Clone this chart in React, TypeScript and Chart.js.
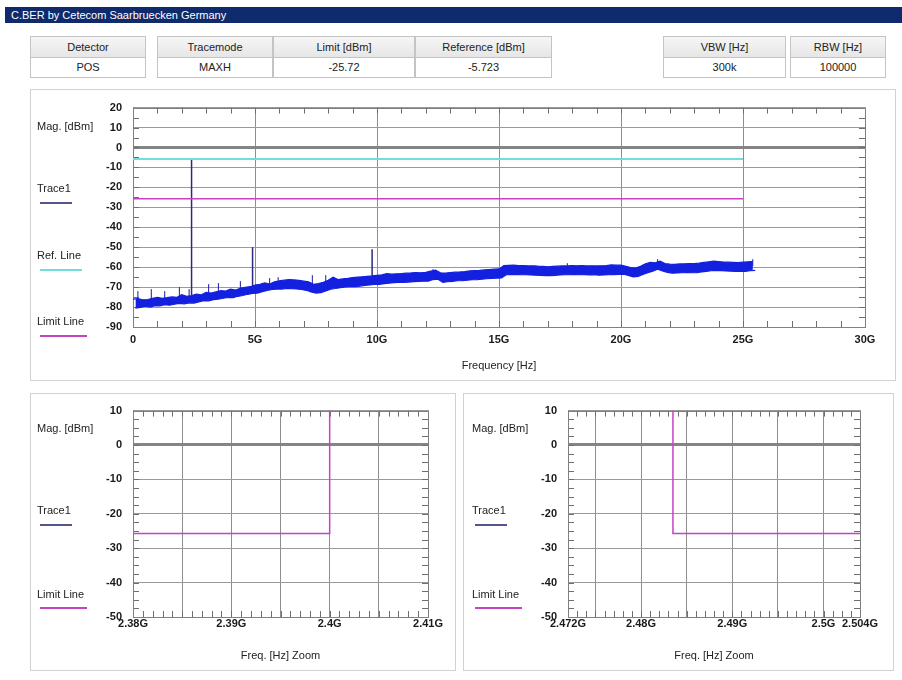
import React, { useEffect, useRef } from 'react';
import { Chart, registerables } from 'chart.js';

Chart.register(...registerables);

const FONT = '"Liberation Sans", Arial, sans-serif';

// ---------- header table ----------
const headerLabels = ['Detector', 'Tracemode', 'Limit [dBm]', 'Reference [dBm]'];
const headerValues = ['POS', 'MAXH', '-25.72', '-5.723'];
const bwLabels = ['VBW [Hz]', 'RBW [Hz]'];
const bwValues = ['300k', '100000'];

// ---------- lines ----------
const limitDbm = -25.72;
const referenceDbm = -5.723;
const lineStartGHz = 0;
const lineStopGHz = 25;

// ---------- measured trace (sweep 0 .. 25.5 GHz, 0.1 GHz per sample) ----------
// samples alternate between the upper and lower envelope of the noise band
const traceStartGHz = 0;
const traceStepGHz = 0.1;
const traceDbm = [
  -76.0, -80.5, -75.8, -80.2, -76.4, -79.6, -76.2, -80.0, -75.6, -79.3,
  -75.2, -79.4, -75.6, -78.8, -75.3, -79.1, -74.9, -78.6, -75.1, -78.2,
  -73.8, -78.4, -74.6, -77.9, -74.3, -78.0, -73.5, -77.4, -73.9, -76.8,
  -72.6, -76.9, -73.0, -76.3, -72.4, -76.0, -71.8, -75.6, -72.0, -75.2,
  -71.0, -75.3, -71.5, -74.6, -70.6, -74.2, -70.1, -73.6, -69.8, -73.2,
  -69.0, -73.0, -68.6, -72.3, -67.9, -71.7, -68.5, -71.2, -67.4, -71.0,
  -66.8, -71.0, -66.5, -70.6, -66.2, -70.8, -66.4, -70.9, -66.6, -71.2,
  -67.0, -71.6, -67.4, -72.4, -68.6, -73.0, -68.2, -72.8, -67.6, -71.9,
  -66.6, -71.0, -65.0, -70.7, -66.2, -70.3, -65.9, -69.9, -65.6, -69.8,
  -65.2, -69.8, -65.0, -69.5, -64.8, -69.1, -64.6, -68.9, -64.4, -68.7,
  -64.1, -68.6, -63.9, -68.3, -63.2, -68.0, -63.5, -67.8, -63.3, -67.7,
  -63.2, -67.6, -63.0, -67.5, -62.9, -67.3, -62.7, -67.2, -62.8, -67.0,
  -62.6, -67.0, -62.0, -66.2, -61.5, -66.0, -62.8, -67.6, -63.0, -67.3,
  -62.7, -67.1, -62.5, -66.8, -62.4, -66.7, -62.2, -66.5, -61.9, -66.3,
  -61.7, -66.2, -61.6, -66.0, -61.4, -65.8, -61.2, -65.6, -61.0, -65.5,
  -60.9, -65.4, -59.2, -63.8, -59.1, -63.7, -59.0, -63.6, -59.2, -63.8,
  -59.2, -63.8, -59.4, -63.9, -59.3, -64.0, -59.5, -64.1, -59.6, -64.2,
  -59.8, -64.2, -59.6, -64.1, -59.5, -63.9, -59.4, -63.8, -59.4, -63.8,
  -59.2, -63.7, -59.3, -63.8, -59.2, -63.7, -59.4, -63.9, -59.3, -63.8,
  -59.4, -64.0, -59.3, -63.9, -59.2, -63.8, -58.9, -63.7, -59.0, -63.6,
  -59.0, -63.5, -59.6, -64.1, -60.2, -64.9, -60.4, -64.6, -59.6, -63.6,
  -58.3, -62.8, -57.6, -62.0, -57.8, -61.0, -57.0, -61.9, -58.2, -62.6,
  -58.5, -63.0, -58.6, -62.9, -58.4, -62.8, -58.3, -62.7, -58.2, -62.8,
  -58.2, -62.7, -58.0, -62.4, -57.6, -62.1, -57.3, -61.8, -57.0, -61.6,
  -57.2, -61.7, -57.4, -61.9, -57.5, -62.0, -57.6, -62.1, -57.7, -62.1,
  -57.5, -62.1, -57.3, -61.8, -57.2, -61.6,
];

// strong narrow spurious peaks
const spikeFreqGHz = [2.4, 4.9, 9.8];
const spikeTopDbm = [-6, -50, -51];
const spikeBaseDbm = [-74, -71, -66];

// small noise spurs sticking out of the band
const spurFreqGHz = [0.2, 0.75, 1.3, 1.9, 2.3, 3.1, 3.5, 4.4, 5.6, 5.95, 7.35, 7.9, 12.3, 15.8, 17.8, 21.5, 25.4];
const spurTopDbm = [-72, -71, -72, -70, -71, -68.5, -68, -67, -65.5, -65, -64, -64, -61, -59, -58, -56, -56];
const spurBaseDbm = [-78, -77.5, -77, -76.5, -75.5, -74.5, -74, -72.5, -70, -69, -70, -69, -65, -62, -62, -59.5, -59.5];

// ---------- axes ----------
const mainXTicks = [0, 5, 10, 15, 20, 25, 30];
const mainXLabels = ['0', '5G', '10G', '15G', '20G', '25G', '30G'];
const mainYRange = [-90, 20];

const zoomLowTicks = [2.38, 2.385, 2.39, 2.395, 2.4, 2.405, 2.41];
const zoomLowLabels = ['2.38G', '', '2.39G', '', '2.4G', '', '2.41G'];
const zoomHighTicks = [2.472, 2.475, 2.48, 2.485, 2.49, 2.495, 2.5, 2.504];
const zoomHighLabels = ['2.472G', '', '2.48G', '', '2.49G', '', '2.5G', '2.504G'];
const zoomYRange = [-50, 10];
const bandLowEdgeGHz = 2.4;
const bandHighEdgeGHz = 2.4835;

// ---------- colors ----------
const TRACE_COLOR = '#1420e0';
const SPIKE_COLOR = '#2a2a80';
const REF_COLOR = '#70dede';
const LIMIT_COLOR = '#c444c4';
const TRACE_LEGEND = '#55558c';

const minorTicks = {
  id: 'minorTicks',
  beforeDatasetsDraw(chart: any, _args: any, opts: any) {
    const { ctx, chartArea: a } = chart;
    const x = chart.scales.x;
    const y = chart.scales.y;
    const len = 6;
    ctx.save();
    ctx.strokeStyle = '#6e6e6e';
    ctx.lineWidth = 1;
    ctx.beginPath();
    const nx = Math.round((x.max - x.min) / opts.x);
    for (let i = 0; i <= nx; i++) {
      const px = Math.round(x.getPixelForValue(x.min + i * opts.x)) + 0.5;
      ctx.moveTo(px, a.top);
      ctx.lineTo(px, a.top + len);
      ctx.moveTo(px, a.bottom);
      ctx.lineTo(px, a.bottom - len);
    }
    const ny = Math.round((y.max - y.min) / opts.y);
    for (let i = 0; i <= ny; i++) {
      const py = Math.round(y.getPixelForValue(y.min + i * opts.y)) + 0.5;
      ctx.moveTo(a.left, py);
      ctx.lineTo(a.left + len, py);
      ctx.moveTo(a.right, py);
      ctx.lineTo(a.right - len, py);
    }
    ctx.stroke();
    ctx.strokeStyle = '#808080';
    ctx.strokeRect(Math.round(a.left) + 0.5, Math.round(a.top) + 0.5, Math.round(a.right - a.left), Math.round(a.bottom - a.top));
    ctx.restore();
  },
};

type Cfg = {
  xTicks: number[];
  xLabels: string[];
  yRange: number[];
  minorX: number;
  minorY: number;
  yAxisWidth: number;
  padRight: number;
  padTop: number;
  xLabelPad: number;
  title: string;
  datasets: any[];
};

function build(canvas: HTMLCanvasElement, c: Cfg) {
  return new Chart(canvas, {
    type: 'line',
    data: { datasets: c.datasets },
    plugins: [minorTicks],
    options: {
      animation: false,
      responsive: false,
      events: [],
      layout: { padding: { top: c.padTop, right: c.padRight, left: 0, bottom: 0 } },
      elements: { point: { radius: 0 }, line: { tension: 0 } },
      plugins: {
        legend: { display: false },
        tooltip: { enabled: false },
        filler: { propagate: false },
        minorTicks: { x: c.minorX, y: c.minorY },
      } as any,
      scales: {
        x: {
          type: 'linear',
          min: c.xTicks[0],
          max: c.xTicks[c.xTicks.length - 1],
          afterBuildTicks: (s: any) => {
            s.ticks = c.xTicks.map((v) => ({ value: v }));
          },
          afterFit: (s: any) => {
            s.height = 53;
          },
          ticks: {
            autoSkip: false,
            maxRotation: 0,
            padding: c.xLabelPad,
            color: '#1a1a1a',
            font: { family: FONT, size: 11, weight: 'bold' },
            callback: (_v: any, i: number) => c.xLabels[i],
          },
          grid: { drawTicks: false, color: '#8e8e8e', lineWidth: 1 },
          border: { display: false },
          title: {
            display: true,
            text: c.title,
            color: '#222',
            font: { family: FONT, size: 11 },
            padding: { top: 0, bottom: 7 },
          },
        },
        y: {
          type: 'linear',
          min: c.yRange[0],
          max: c.yRange[1],
          afterFit: (s: any) => {
            s.width = c.yAxisWidth;
          },
          ticks: {
            stepSize: 10,
            padding: 11,
            color: '#1a1a1a',
            font: { family: FONT, size: 11, weight: 'bold' },
          },
          grid: {
            drawTicks: false,
            color: (ctx: any) => (ctx.tick && ctx.tick.value === 0 ? '#858585' : '#9a9a9a'),
            lineWidth: (ctx: any) => (ctx.tick && ctx.tick.value === 0 ? 3 : 1),
          },
          border: { display: false },
        },
      },
    } as any,
  });
}

// upper envelope = even samples, lower envelope = odd samples
const traceUpper: { x: number; y: number }[] = [];
const traceLower: { x: number; y: number }[] = [];
traceDbm.forEach((v, i) => {
  const pt = { x: traceStartGHz + i * traceStepGHz, y: v };
  if (i % 2 === 0) traceUpper.push(pt);
  else traceLower.push(pt);
});
const verticals = (f: number[], base: number[], top: number[]) => {
  const out: any[] = [];
  f.forEach((v, i) => {
    out.push({ x: v, y: base[i] }, { x: v, y: top[i] }, { x: v, y: null });
  });
  return out;
};
const spikeData = verticals(spikeFreqGHz, spikeBaseDbm, spikeTopDbm);
const spurData = verticals(spurFreqGHz, spurBaseDbm, spurTopDbm);

const mainCfg: Cfg = {
  xTicks: mainXTicks,
  xLabels: mainXLabels,
  yRange: mainYRange,
  minorX: 1,
  minorY: 5,
  yAxisWidth: 103,
  padRight: 31,
  padTop: 10,
  xLabelPad: 6,
  title: 'Frequency [Hz]',
  datasets: [
    {
      label: 'Ref. Line',
      data: [
        { x: lineStartGHz, y: referenceDbm },
        { x: lineStopGHz, y: referenceDbm },
      ],
      borderColor: REF_COLOR,
      borderWidth: 2,
      fill: false,
    },
    {
      label: 'Limit Line',
      data: [
        { x: lineStartGHz, y: limitDbm },
        { x: lineStopGHz, y: limitDbm },
      ],
      borderColor: LIMIT_COLOR,
      borderWidth: 1.5,
      fill: false,
    },
    {
      label: 'Trace1 upper',
      data: traceUpper,
      borderColor: TRACE_COLOR,
      borderWidth: 1.2,
      fill: false,
    },
    {
      label: 'Trace1',
      data: traceLower,
      borderColor: TRACE_COLOR,
      backgroundColor: TRACE_COLOR,
      borderWidth: 1.2,
      fill: '-1',
    },
    {
      label: 'Trace1 spurs',
      data: spurData,
      borderColor: '#1a1aa8',
      borderWidth: 1,
      spanGaps: false,
      fill: false,
    },
    {
      label: 'Trace1 peaks',
      data: spikeData,
      borderColor: SPIKE_COLOR,
      borderWidth: 1.5,
      spanGaps: false,
      fill: false,
    },
  ],
};

const lowCfg: Cfg = {
  xTicks: zoomLowTicks,
  xLabels: zoomLowLabels,
  yRange: zoomYRange,
  minorX: 0.001,
  minorY: 2.5,
  yAxisWidth: 103,
  padRight: 27,
  padTop: 11,
  xLabelPad: 0,
  title: 'Freq. [Hz] Zoom',
  datasets: [
    {
      label: 'Limit Line',
      data: [
        { x: zoomLowTicks[0], y: limitDbm },
        { x: bandLowEdgeGHz, y: limitDbm },
        { x: bandLowEdgeGHz, y: zoomYRange[1] },
      ],
      borderColor: LIMIT_COLOR,
      borderWidth: 1.5,
      fill: false,
    },
  ],
};

const highCfg: Cfg = {
  xTicks: zoomHighTicks,
  xLabels: zoomHighLabels,
  yRange: zoomYRange,
  minorX: 0.001,
  minorY: 2.5,
  yAxisWidth: 105,
  padRight: 33,
  padTop: 11,
  xLabelPad: 0,
  title: 'Freq. [Hz] Zoom',
  datasets: [
    {
      label: 'Limit Line',
      data: [
        { x: bandHighEdgeGHz, y: zoomYRange[1] },
        { x: bandHighEdgeGHz, y: limitDbm },
        { x: zoomHighTicks[zoomHighTicks.length - 1], y: limitDbm },
      ],
      borderColor: LIMIT_COLOR,
      borderWidth: 1.5,
      fill: false,
    },
  ],
};

function ChartCanvas(props: { left: number; top: number; width: number; height: number; cfg: Cfg }) {
  const ref = useRef<HTMLCanvasElement | null>(null);
  useEffect(() => {
    const chart = build(ref.current as HTMLCanvasElement, props.cfg);
    return () => chart.destroy();
  }, []);
  return (
    <canvas
      ref={ref}
      width={props.width}
      height={props.height}
      style={{ position: 'absolute', left: props.left, top: props.top, width: props.width, height: props.height }}
    />
  );
}

const textStyle: React.CSSProperties = {
  position: 'absolute',
  font: `11px ${FONT}`,
  color: '#222',
  lineHeight: '14px',
  whiteSpace: 'nowrap',
};

function Legend(props: { left: number; items: { text: string; top: number; lineTop: number; lineWidth: number; color: string; thick: number }[] }) {
  return (
    <>
      {props.items.map((it, i) => (
        <React.Fragment key={i}>
          <div style={{ ...textStyle, left: props.left, top: it.top }}>{it.text}</div>
          <div
            style={{
              position: 'absolute',
              left: props.left + 3,
              top: it.lineTop,
              width: it.lineWidth,
              height: it.thick,
              background: it.color,
            }}
          />
        </React.Fragment>
      ))}
    </>
  );
}

function Cell(props: { left: number; width: number; label: string; value: string }) {
  const base: React.CSSProperties = {
    position: 'absolute',
    left: props.left,
    width: props.width - 1,
    boxSizing: 'border-box',
    border: '1px solid #c4c4c4',
    font: `11px ${FONT}`,
    color: '#222',
    textAlign: 'center',
  };
  return (
    <>
      <div style={{ ...base, top: 36, height: 22, lineHeight: '20px', background: 'linear-gradient(#f6f6f6, #e6e6e6)' }}>{props.label}</div>
      <div style={{ ...base, top: 57, height: 21, lineHeight: '19px', background: '#fff' }}>{props.value}</div>
    </>
  );
}

const headerLefts = [30, 157, 273, 415];
const headerWidths = [117, 117, 143, 138];
const bwLefts = [663, 790];
const bwWidths = [124, 97];

export default function App() {
  const panel = (left: number, top: number, width: number, height: number): React.CSSProperties => ({
    position: 'absolute',
    left,
    top,
    width,
    height,
    boxSizing: 'border-box',
    border: '1px solid #d2d2d2',
    background: '#fff',
  });
  return (
    <div style={{ position: 'absolute', left: 0, top: 0, width: 902, height: 680, background: '#fff', overflow: 'hidden' }}>
      <div
        style={{
          position: 'absolute',
          left: 5,
          top: 7,
          width: 897,
          height: 16,
          background: '#0f2b6b',
          color: '#fff',
          font: `11px ${FONT}`,
          lineHeight: '16px',
          paddingLeft: 6,
          boxSizing: 'border-box',
        }}
      >
        C.BER by Cetecom Saarbruecken Germany
      </div>

      {headerLabels.map((l, i) => (
        <Cell key={l} left={headerLefts[i]} width={headerWidths[i]} label={l} value={headerValues[i]} />
      ))}
      {bwLabels.map((l, i) => (
        <Cell key={l} left={bwLefts[i]} width={bwWidths[i]} label={l} value={bwValues[i]} />
      ))}

      <div style={panel(30, 89, 866, 292)} />
      <div style={panel(30, 393, 426, 278)} />
      <div style={panel(463, 393, 431, 278)} />

      <ChartCanvas left={30} top={90} width={866} height={290} cfg={mainCfg} />
      <ChartCanvas left={30} top={393} width={425} height={277} cfg={lowCfg} />
      <ChartCanvas left={463} top={393} width={430} height={277} cfg={highCfg} />

      <div style={{ ...textStyle, left: 37, top: 119 }}>Mag. [dBm]</div>
      <Legend
        left={37}
        items={[
          { text: 'Trace1', top: 181, lineTop: 202, lineWidth: 32, color: TRACE_LEGEND, thick: 2 },
          { text: 'Ref. Line', top: 248, lineTop: 269, lineWidth: 42, color: REF_COLOR, thick: 2 },
          { text: 'Limit Line', top: 314, lineTop: 335, lineWidth: 47, color: LIMIT_COLOR, thick: 2 },
        ]}
      />

      <div style={{ ...textStyle, left: 37, top: 421 }}>Mag. [dBm]</div>
      <Legend
        left={37}
        items={[
          { text: 'Trace1', top: 503, lineTop: 524, lineWidth: 32, color: TRACE_LEGEND, thick: 2 },
          { text: 'Limit Line', top: 587, lineTop: 607, lineWidth: 47, color: LIMIT_COLOR, thick: 2 },
        ]}
      />

      <div style={{ ...textStyle, left: 472, top: 421 }}>Mag. [dBm]</div>
      <Legend
        left={472}
        items={[
          { text: 'Trace1', top: 503, lineTop: 524, lineWidth: 32, color: TRACE_LEGEND, thick: 2 },
          { text: 'Limit Line', top: 587, lineTop: 607, lineWidth: 47, color: LIMIT_COLOR, thick: 2 },
        ]}
      />
    </div>
  );
}
